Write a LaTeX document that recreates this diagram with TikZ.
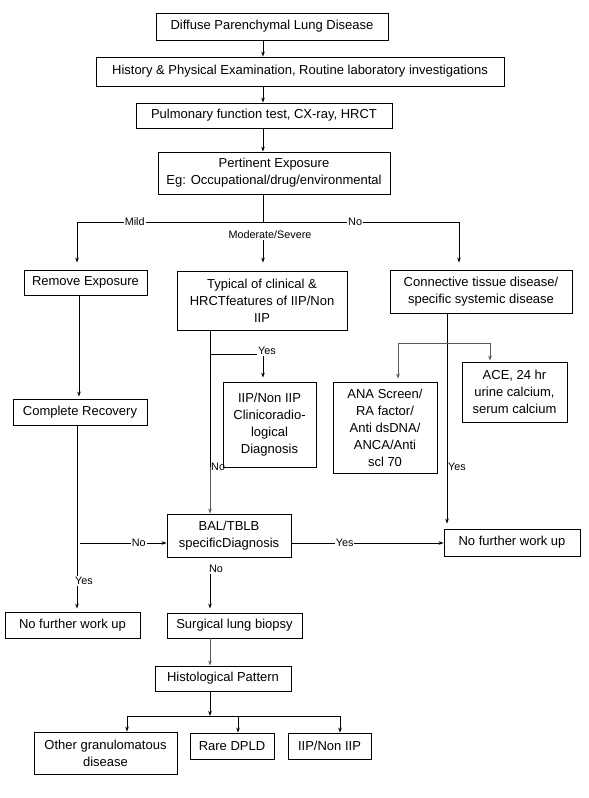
\documentclass[tikz,border=0pt]{standalone}
\usepackage{fontspec}
\setmainfont{Liberation Sans}
\usetikzlibrary{arrows.meta}
\begin{document}
\begin{tikzpicture}[x=1pt,y=-1pt,
  box/.style={draw, line width=0.9pt, inner sep=0pt, align=center, font=\fontsize{13}{17}\selectfont},
  lbl/.style={font=\fontsize{10.8}{12}\selectfont, inner sep=1pt, fill=white},
  lbn/.style={font=\fontsize{10.8}{12}\selectfont, inner sep=1pt, anchor=west},
  arr/.style={-{Stealth[length=5pt,width=3.6pt]}, line width=0.8pt},
  ln/.style={line width=0.8pt}]
\useasboundingbox[fill=white] (0,0) rectangle (589,798);

% boxes
\node[box, minimum width=232pt, minimum height=27pt] (b1) at (272,26.5) {Diffuse Parenchymal Lung Disease};
\node[box, minimum width=408pt, minimum height=29pt] (b2) at (300,71.5) {History \& Physical Examination, Routine laboratory investigations};
\node[box, minimum width=256pt, minimum height=25pt] (b3) at (264,115.5) {Pulmonary function test, CX-ray, HRCT};
\node[box, minimum width=232pt, minimum height=42pt] (b4) at (274,173) {Pertinent Exposure\\Eg: Occupational/drug/environmental};

\node[box, minimum width=123pt, minimum height=25pt] (rem) at (85.5,282.5) {Remove Exposure};
\node[box, minimum width=170pt, minimum height=59pt] (typ) at (262,300.5) {Typical of clinical \&\\HRCTfeatures of IIP/Non\\IIP};
\node[box, minimum width=182pt, minimum height=43pt] (con) at (481,291.5) {Connective tissue disease/\\specific systemic disease};

\node[box, minimum width=134pt, minimum height=26pt] (cr) at (80,412) {Complete Recovery};
\node[box, minimum width=93pt, minimum height=85pt] (diag) at (269.5,424.5) {IIP/Non IIP\\Clinicoradio-\\logical\\Diagnosis};
\node[box, minimum width=104pt, minimum height=91pt] (ana) at (385,427.5) {ANA Screen/\\RA factor/\\Anti dsDNA/\\ANCA/Anti\hspace*{1.2em}\\scl 70};
\node[box, minimum width=105pt, minimum height=60pt] (ace) at (514.5,392) {ACE, 24 hr\\urine calcium,\\serum calcium};

\node[box, minimum width=124pt, minimum height=43pt] (bal) at (229,535.5) {BAL/TBLB\\specificDiagnosis};
\node[box, minimum width=136pt, minimum height=27pt] (nfr) at (512,542.5) {No further work up};
\node[box, minimum width=135pt, minimum height=26pt] (nfl) at (72.5,625) {No further work up};
\node[box, minimum width=135pt, minimum height=25pt] (surg) at (234.5,625.5) {Surgical lung biopsy};
\node[box, minimum width=136pt, minimum height=25pt] (hist) at (223,678.5) {Histological Pattern};

\node[box, minimum width=143pt, minimum height=42pt] (og) at (105.5,753) {Other granulomatous\\disease};
\node[box, minimum width=84pt, minimum height=26pt] (rare) at (232,746) {Rare DPLD};
\node[box, minimum width=83pt, minimum height=26pt] (iip) at (329.5,746) {IIP/Non IIP};

% coordinates
\coordinate (c263) at (263,0);
\coordinate (c79) at (79,0);
\coordinate (c77) at (77,0);
\coordinate (c210) at (210,0);
\coordinate (c447) at (447,0);
\coordinate (j1) at (263,222);
\coordinate (jl) at (77,222);
\coordinate (jr) at (459,222);
\coordinate (nst) at (80,543);
\coordinate (tno) at (210,467);
\coordinate (ty) at (210,354);
\coordinate (gl) at (398,343);
\coordinate (gr) at (490,343);
\coordinate (j2) at (210,716);
\coordinate (jl2) at (127,716);
\coordinate (jm2) at (238,716);
\coordinate (jr2) at (340,716);

% top chain
\draw[arr] (b1.south -| c263) -- (b2.north -| c263);
\draw[arr] (b2.south -| c263) -- (b3.north -| c263);
\draw[arr] (b3.south -| c263) -- (b4.north -| c263);
\draw[ln] (b4.south -| c263) -- (j1);
\draw[arr, shorten >=7pt] (j1) -- node[lbl, pos=0.69] {Mild} (jl) -- (rem.north -| jl);
\draw[arr, shorten >=7pt] (j1) -- node[lbl, pos=0.47] {No} (jr) -- (con.north -| jr);
\node[lbl] (lms) at (270,235) {Moderate/Severe};
\draw[arr, shorten >=8pt] (lms.south -| c263) -- (typ.north -| c263);

% left column
\draw[arr, shorten >=2pt] (rem.south -| c79) -- (cr.north -| c79);
\node[lbl] (lyes1) at (84,581) {Yes};
\draw[ln] (cr.south -| c77) -- (lyes1.north -| c77);
\draw[arr, shorten >=3pt] (lyes1.south -| c77) -- (nfl.north -| c77);
\draw[arr] (nst) -- node[lbl, pos=0.68] {No} (bal.west |- nst);

% typical branch
\draw[ln] (typ.south -| c210) -- (tno);
\node[lbn] (lno2) at (tno) {No};
\draw[arr, gray!70!black] (tno) -- (bal.north -| c210);
\node[lbl] (lyes2) at (267,351) {Yes};
\draw[ln] (ty) -- (lyes2.west |- ty);
\draw[arr, shorten >=4pt] (lyes2.south -| c263) -- (diag.north -| c263);

% connective branch
\draw[arr, shorten >=5pt] (con.south -| c447) -- (nfr.north -| c447);
\node[lbn] (lyes3) at (447,467) {Yes};
\draw[ln, gray!70!black] (gl) -- (gr);
\draw[arr, gray!70!black, shorten >=3pt] (gl) -- (ana.north -| gl);
\draw[arr, gray!70!black, shorten >=1pt] (gr) -- (ace.north -| gr);

% BAL
\draw[arr] (bal.east |- nst) -- node[lbl, pos=0.35] {Yes} (nfr.west |- nst);
\node[lbl] (lno3) at (216,569) {No};
\draw[arr, shorten >=4pt] (lno3.south -| c210) -- (surg.north -| c210);
\draw[arr, gray!70!black] (surg.south -| c210) -- (hist.north -| c210);

% histology
\draw[arr] (hist.south -| j2) -- (j2);
\draw[ln] (jl2) -- (jr2);
\draw[arr] (jl2) -- (og.north -| jl2);
\draw[arr] (jm2) -- (rare.north -| jm2);
\draw[arr] (jr2) -- (iip.north -| jr2);
\end{tikzpicture}
\end{document}
